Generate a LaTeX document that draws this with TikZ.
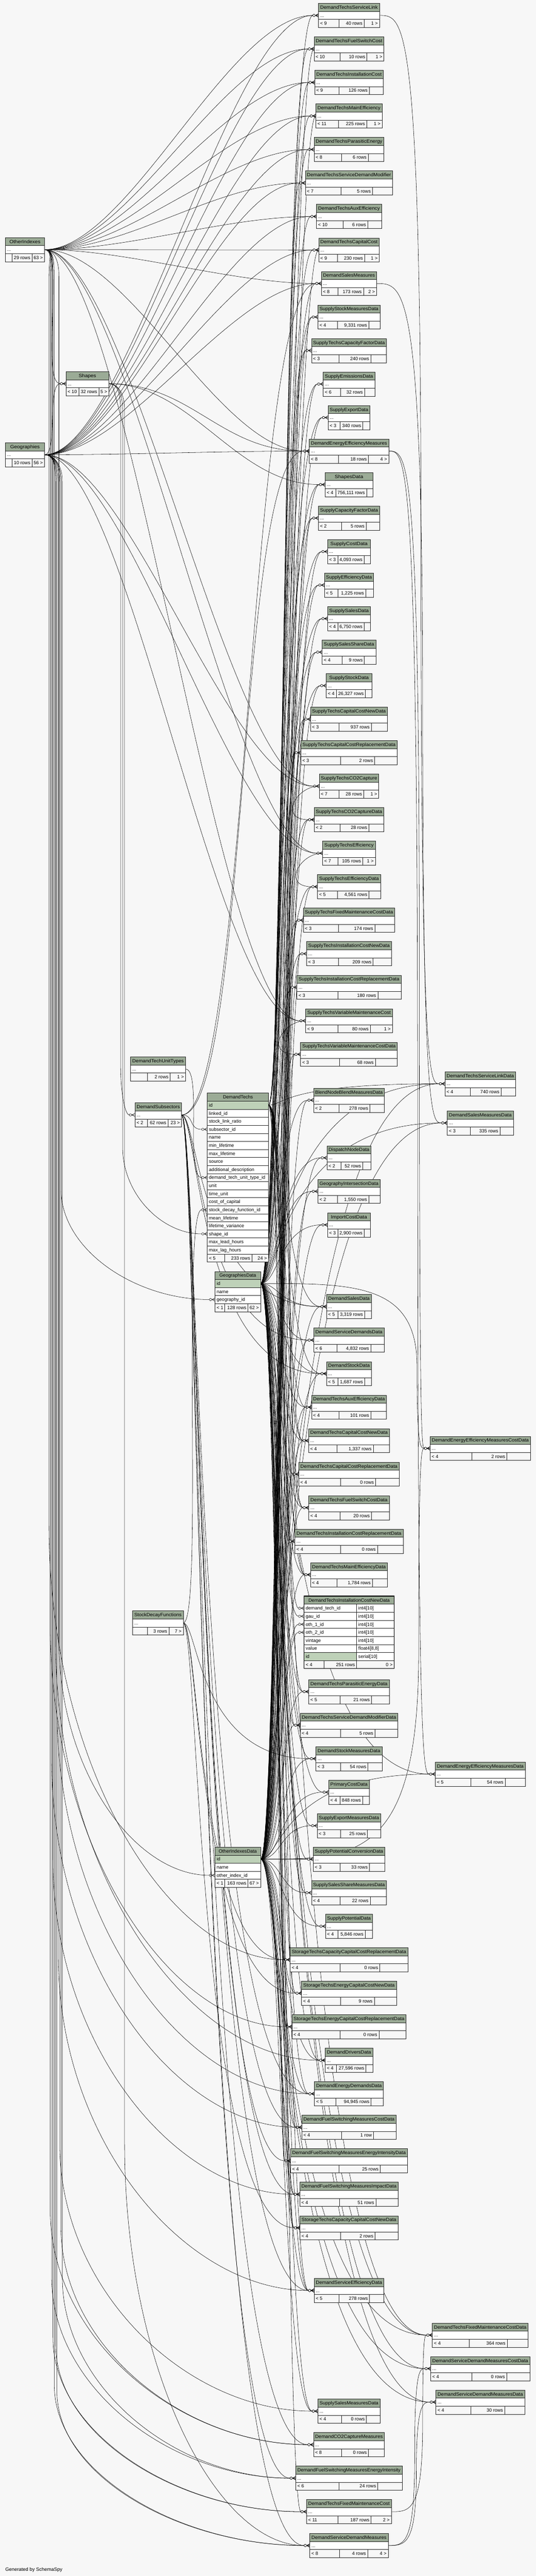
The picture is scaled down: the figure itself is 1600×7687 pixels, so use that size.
\documentclass[tikz,border=0pt]{standalone}
\usepackage{fontspec}
\usepackage{graphicx}
\setmainfont{Liberation Sans}
\usetikzlibrary{calc}
\pgfdeclarelayer{bgl}
\pgfdeclarelayer{edges}
\pgfsetlayers{bgl,edges,main}
\definecolor{bgc}{HTML}{F7F7F7}
\definecolor{hdr}{HTML}{9BAB96}
\definecolor{pkc}{HTML}{BED1B8}
\newlength\wL\newlength\wM\newlength\wR\newlength\wH
\newcommand\tf{\fontsize{14}{16}\selectfont}
\newcommand\meas[2]{\pgfinterruptpicture\setbox0=\hbox{\tf #2}\global#1=\wd0\relax\endpgfinterruptpicture}
\tikzset{
 tbox/.style={rectangle,inner sep=0pt,outer sep=0pt,minimum height=72pt,draw=none},
 txt/.style={inner sep=0pt,outer sep=0pt,font=\tf,text=black},
 tline/.style={draw=black!85,line width=0.9pt},
 fk/.style={draw=black,line width=0.85pt},
}
% compact table: id, title, cx, ytop, W, left, mid, right
\newcommand\tb[8]{%
 \pgfmathsetmacro\tbxl{#3-#5/2}%
 \pgfmathsetmacro\tbxr{#3+#5/2}%
 \meas\wL{#6}\meas\wM{#7}\meas\wR{#8}\meas\wH{#2}%
 \pgfmathsetmacro\tblz{max(\wL+8pt,17pt)}%
 \pgfmathsetmacro\tbmz{\wM+8pt}%
 \pgfmathsetmacro\tbrz{max(\wR+8pt,17pt)}%
 \pgfmathsetmacro\tbex{#5-\tblz-\tbmz-\tbrz}%
 \pgfmathsetmacro\tbda{\tbxl+\tblz+0.47*\tbex}%
 \pgfmathsetmacro\tbdb{\tbxr-\tbrz-0.26*\tbex}%
 \pgfmathsetmacro\tbsx{min(1.1,(#5-10)/\wH)}%
 \node[tbox,minimum width=#5pt,anchor=north west] (#1) at (\tbxl,#4) {};%
 \fill[bgc] (\tbxl,#4) rectangle (\tbxr,#4+72);%
 \fill[hdr] (\tbxl,#4) rectangle (\tbxr,#4+24);%
 \fill[white] (\tbxl,#4+24) rectangle (\tbxr,#4+48);%
 \draw[tline] (\tbxl,#4+24) -- (\tbxr,#4+24) (\tbxl,#4+48) -- (\tbxr,#4+48) (\tbda,#4+48) -- (\tbda,#4+72) (\tbdb,#4+48) -- (\tbdb,#4+72);%
 \draw[tline] (\tbxl,#4) rectangle (\tbxr,#4+72);%
 \node[txt,anchor=base] (#1-h) at (#3,#4+17) {\scalebox{\tbsx}[1]{#2}};%
 \node[txt,anchor=base west] (#1-d) at (\tbxl+5,#4+41) {...};%
 \node[txt,anchor=base west] (#1-l) at (\tbxl+5,#4+65) {#6};%
 \node[txt,anchor=base east] (#1-m) at (\tbdb-5,#4+65) {#7};%
 \node[txt,anchor=base east] (#1-r) at (\tbxr-5,#4+65) {#8};%
}
\newcommand\fkcrow[1]{\draw[fk] ($(#1)+(-9,0)$) -- ($(#1)+(0,-5)$) ($(#1)+(-9,0)$) -- (#1) ($(#1)+(-9,0)$) -- ($(#1)+(0,5)$);\draw[fk,fill=white] ($(#1)+(-13.5,0)$) circle[radius=3.5];}
\newcommand\eD[3]{\draw[fk] (#1) .. controls +(#3,0) and +(-#3,0) .. ($(#2)+(-17,0)$);\fkcrow{#2}}
\newcommand\eM[3]{\draw[fk] (#1) .. controls ($(#1)+(#3,0)$) and ($(#1|-#2)+(#3,0)$) .. ($(#2)+(-17,0)$);\fkcrow{#2}}
\newcommand\eC[4]{\draw[fk] let \p1=(#1), \p2=($(#2)+(-17,0)$) in (\p1) .. controls (\x1+25pt,\y1) and (#3pt,\y1-25pt) .. (#3pt,\y1-80pt) -- (#3pt,\y2+#4pt) .. controls (#3pt,\y2+0.45*#4pt) and ({\x2-0.5*(\x2-#3pt)},\y2) .. (\p2);\fkcrow{#2}}
\newcommand\eF[3]{\draw[fk] let \p1=(#1), \p2=($(#2)+(-17,0)$) in (\p1) .. controls ({\x1+0.6*(#3pt-\x1)},\y1) and (#3pt,\y1) .. (#3pt,{0.5*(\y1+\y2)}) .. controls (#3pt,\y2) and ({#3pt+0.5*(\x2-#3pt)},\y2) .. (\p2);\fkcrow{#2}}
\newcommand\eL[2]{\draw[fk] (#1) .. controls +(-70,0) and +(-90,0) .. ($(#2)+(-17,0)$);\fkcrow{#2}}

\begin{document}
\begin{tikzpicture}[x=1pt,y=-1pt]
\begin{pgfonlayer}{bgl}
\fill[bgc] (0,0) rectangle (1600,7687);
\end{pgfonlayer}
\useasboundingbox (0,0) rectangle (1600,7687);

% ---------- left tables
\tb{oi}{OtherIndexes}{74.5}{709}{117}{}{29 rows}{63 >}
\tb{geo}{Geographies}{74.5}{1321}{117}{}{10 rows}{56 >}
\tb{sh}{Shapes}{261}{1109}{128}{< 10}{32 rows}{5 >}
\tb{dtut}{DemandTechUnitTypes}{472}{3154}{164}{}{2 rows}{1 >}
\tb{dss}{DemandSubsectors}{472.5}{3291}{139}{< 2}{62 rows}{23 >}
\tb{sdf}{StockDecayFunctions}{471.5}{4807}{151}{}{3 rows}{7 >}

% DemandTechs
\node[tbox,minimum width=183pt,minimum height=504pt,anchor=north west] (dt) at (619,3262) {};
\fill[bgc] (619,3262) rectangle (802,3766);
\fill[hdr] (619,3262) rectangle (802,3286);
\fill[pkc] (619,3286) rectangle (802,3310);
\fill[white] (619,3310) rectangle (802,3742);
\foreach \k in {1,...,20}{\draw[tline] (619,3262+24*\k) -- (802,3262+24*\k);}
\draw[tline] (671,3742) -- (671,3766) (752,3742) -- (752,3766);
\draw[tline] (619,3262) rectangle (802,3766);
\node[txt,anchor=base] (dt-h) at (710.5,3279) {DemandTechs};
\foreach \r [count=\i] in {id,linked\_id,stock\_link\_ratio,subsector\_id,name,min\_lifetime,max\_lifetime,source,additional\_description,demand\_tech\_unit\_type\_id,unit,time\_unit,cost\_of\_capital,stock\_decay\_function\_id,mean\_lifetime,lifetime\_variance,shape\_id,max\_lead\_hours,max\_lag\_hours}{\node[txt,anchor=base west] (dt-\i) at (624,3262+24*\i+17) {\r};}
\node[txt,anchor=base west] (dt-fl) at (624,3759) {< 5};
\node[txt,anchor=base east] (dt-fm) at (747,3759) {233 rows};
\node[txt,anchor=base east] (dt-fr) at (797,3759) {24 >};
\coordinate (DTid) at ($(dt.north east)+(0,36)$);
\coordinate (DTsub) at ($(dt.north west)+(0,108)$);
\coordinate (DTunit) at ($(dt.north west)+(0,252)$);
\coordinate (DTsdf) at ($(dt.north west)+(0,348)$);
\coordinate (DTshape) at ($(dt.north west)+(0,420)$);

% GeographiesData
\node[tbox,minimum width=136pt,minimum height=120pt,anchor=north west] (gd) at (642,3794) {};
\fill[bgc] (642,3794) rectangle (778,3914);
\fill[hdr] (642,3794) rectangle (778,3818);
\fill[pkc] (642,3818) rectangle (778,3842);
\fill[white] (642,3842) rectangle (778,3890);
\foreach \k in {1,2,3,4}{\draw[tline] (642,3794+24*\k) -- (778,3794+24*\k);}
\draw[tline] (670.5,3890) -- (670.5,3914) (740.5,3890) -- (740.5,3914);
\draw[tline] (642,3794) rectangle (778,3914);
\node[txt,anchor=base] (gd-h) at (710,3811) {GeographiesData};
\node[txt,anchor=base west] (gd-1) at (647,3835) {id};
\node[txt,anchor=base west] (gd-2) at (647,3859) {name};
\node[txt,anchor=base west] (gd-3) at (647,3883) {geography\_id};
\node[txt,anchor=base west] (gd-fl) at (647,3907) {< 1};
\node[txt,anchor=base east] (gd-fm) at (735.5,3907) {128 rows};
\node[txt,anchor=base east] (gd-fr) at (773,3907) {62 >};
\coordinate (GDid) at ($(gd.north east)+(0,36)$);
\coordinate (GDgeo) at ($(gd.north west)+(0,84)$);

% OtherIndexesData
\node[tbox,minimum width=136pt,minimum height=120pt,anchor=north west] (oid) at (642,5512) {};
\fill[bgc] (642,5512) rectangle (778,5632);
\fill[hdr] (642,5512) rectangle (778,5536);
\fill[pkc] (642,5536) rectangle (778,5560);
\fill[white] (642,5560) rectangle (778,5608);
\foreach \k in {1,2,3,4}{\draw[tline] (642,5512+24*\k) -- (778,5512+24*\k);}
\draw[tline] (670.5,5608) -- (670.5,5632) (740.5,5608) -- (740.5,5632);
\draw[tline] (642,5512) rectangle (778,5632);
\node[txt,anchor=base] (oid-h) at (710,5529) {OtherIndexesData};
\node[txt,anchor=base west] (oid-1) at (647,5553) {id};
\node[txt,anchor=base west] (oid-2) at (647,5577) {name};
\node[txt,anchor=base west] (oid-3) at (647,5601) {other\_index\_id};
\node[txt,anchor=base west] (oid-fl) at (647,5625) {< 1};
\node[txt,anchor=base east] (oid-fm) at (735.5,5625) {163 rows};
\node[txt,anchor=base east] (oid-fr) at (773,5625) {67 >};
\coordinate (OIDid) at ($(oid.north east)+(0,36)$);
\coordinate (OIDoi) at ($(oid.north west)+(0,84)$);

% ---------- right column
\tb{r1}{DemandTechsServiceLink}{1042}{10}{182}{< 9}{40 rows}{1 >}
\tb{r2}{DemandTechsFuelSwitchCost}{1042}{110}{209}{< 10}{10 rows}{1 >}
\tb{r3}{DemandTechsInstallationCost}{1042}{210}{205}{< 9}{126 rows}{}
\tb{r4}{DemandTechsMainEfficiency}{1042}{310}{198}{< 11}{225 rows}{1 >}
\tb{r5}{DemandTechsParasiticEnergy}{1042}{410}{209}{< 8}{6 rows}{}
\tb{r6}{DemandTechsServiceDemandModifier}{1042}{510}{261}{< 7}{5 rows}{}
\tb{r7}{DemandTechsAuxEfficiency}{1042}{610}{194}{< 10}{6 rows}{}
\tb{r8}{DemandTechsCapitalCost}{1042}{710}{181}{< 9}{230 rows}{1 >}
\tb{r9}{DemandSalesMeasures}{1042}{810}{165}{< 8}{173 rows}{2 >}
\tb{r10}{SupplyStockMeasuresData}{1042}{910}{186}{< 4}{9,331 rows}{}
\tb{r11}{SupplyTechsCapacityFactorData}{1042}{1010}{224}{< 3}{240 rows}{}
\tb{r12}{SupplyEmissionsData}{1042}{1110}{154}{< 6}{32 rows}{}
\tb{r13}{SupplyExportData}{1042}{1210}{125}{< 3}{340 rows}{}
\tb{r14}{DemandEnergyEfficiencyMeasures}{1042}{1310}{237}{< 8}{18 rows}{4 >}
\tb{r15}{ShapesData}{1042}{1410}{143}{< 4}{756,111 rows}{}
\tb{r16}{SupplyCapacityFactorData}{1042}{1510}{183}{< 2}{5 rows}{}
\tb{r17}{SupplyCostData}{1042}{1610}{128}{< 3}{4,093 rows}{}
\tb{r18}{SupplyEfficiencyData}{1042}{1710}{147}{< 5}{1,225 rows}{}
\tb{r19}{SupplySalesData}{1042}{1810}{128}{< 4}{6,750 rows}{}
\tb{r20}{SupplySalesShareData}{1042}{1910}{160}{< 4}{9 rows}{}
\tb{r21}{SupplyStockData}{1042}{2010}{136}{< 4}{26,327 rows}{}
\tb{r22}{SupplyTechsCapitalCostNewData}{1042}{2110}{230}{< 3}{937 rows}{}
\tb{r23}{SupplyTechsCapitalCostReplacementData}{1042}{2210}{288}{< 3}{2 rows}{}
\tb{r24}{SupplyTechsCO2Capture}{1042}{2310}{178}{< 7}{28 rows}{1 >}
\tb{r25}{SupplyTechsCO2CaptureData}{1042}{2410}{208}{< 2}{28 rows}{}
\tb{r26}{SupplyTechsEfficiency}{1042}{2510}{157}{< 7}{105 rows}{1 >}
\tb{r27}{SupplyTechsEfficiencyData}{1042}{2610}{188}{< 5}{4,561 rows}{}
\tb{r28}{SupplyTechsFixedMaintenanceCostData}{1042}{2710}{273}{< 3}{174 rows}{}
\tb{r29}{SupplyTechsInstallationCostNewData}{1042}{2810}{253}{< 3}{209 rows}{}
\tb{r30}{SupplyTechsInstallationCostReplacementData}{1042}{2910}{311}{< 3}{180 rows}{}
\tb{r31}{SupplyTechsVariableMaintenanceCost}{1042}{3010}{259}{< 9}{80 rows}{1 >}
\tb{r32}{SupplyTechsVariableMaintenanceCostData}{1042}{3110}{289}{< 3}{68 rows}{}
\tb{r33}{BlendNodeBlendMeasuresData}{1042}{3247}{212}{< 2}{278 rows}{}
\tb{r34}{DispatchNodeData}{1042}{3419}{132}{< 2}{52 rows}{}
\tb{r35}{GeographyIntersectionData}{1042}{3519}{186}{< 2}{1,550 rows}{}
\tb{r36}{ImportCostData}{1042}{3619}{128}{< 3}{2,900 rows}{}
\tb{r37}{DemandSalesData}{1042}{3863}{134}{< 5}{3,319 rows}{}
\tb{r38}{DemandServiceDemandsData}{1042}{3963}{210}{< 6}{4,832 rows}{}
\tb{r39}{DemandStockData}{1042}{4063}{134}{< 5}{1,687 rows}{}
\tb{r40}{DemandTechsAuxEfficiencyData}{1042}{4163}{224}{< 4}{101 rows}{}
\tb{r41}{DemandTechsCapitalCostNewData}{1042}{4263}{241}{< 4}{1,337 rows}{}
\tb{r42}{DemandTechsCapitalCostReplacementData}{1042}{4363}{300}{< 4}{0 rows}{}
\tb{r43}{DemandTechsFuelSwitchCostData}{1042}{4463}{240}{< 4}{20 rows}{}
\tb{r44}{DemandTechsInstallationCostReplacementData}{1042}{4563}{323}{< 4}{0 rows}{}
\tb{r45}{DemandTechsMainEfficiencyData}{1042}{4663}{230}{< 4}{1,784 rows}{}
\tb{r47}{DemandTechsParasiticEnergyData}{1042}{5012}{240}{< 5}{21 rows}{}
\tb{r48}{DemandTechsServiceDemandModifierData}{1042}{5112}{292}{< 4}{5 rows}{}
\tb{r49}{DemandStockMeasuresData}{1042}{5212}{197}{< 3}{54 rows}{}
\tb{r50}{PrimaryCostData}{1042}{5312}{121}{< 4}{848 rows}{}
\tb{r51}{SupplyExportMeasuresData}{1042}{5412}{190}{< 3}{25 rows}{}
\tb{r52}{SupplyPotentialConversionData}{1042}{5512}{214}{< 3}{33 rows}{}
\tb{r53}{SupplySalesShareMeasuresData}{1042}{5612}{224}{< 4}{22 rows}{}
\tb{r54}{SupplyPotentialData}{1042}{5712}{140}{< 4}{5,846 rows}{}
\tb{r55}{StorageTechsCapacityCapitalCostReplacementData}{1042}{5812}{352}{< 4}{0 rows}{}
\tb{r56}{StorageTechsEnergyCapitalCostNewData}{1042}{5912}{283}{< 4}{9 rows}{}
\tb{r57}{StorageTechsEnergyCapitalCostReplacementData}{1042}{6012}{341}{< 4}{0 rows}{}
\tb{r58}{DemandDriversData}{1042}{6112}{142}{< 4}{27,596 rows}{}
\tb{r59}{DemandEnergyDemandsData}{1042}{6212}{206}{< 5}{94,945 rows}{}
\tb{r60}{DemandFuelSwitchingMeasuresCostData}{1042}{6312}{282}{< 4}{1 row}{}
\tb{r61}{DemandFuelSwitchingMeasuresEnergyIntensityData}{1042}{6412}{349}{< 4}{25 rows}{}
\tb{r62}{DemandFuelSwitchingMeasuresImpactData}{1042}{6512}{294}{< 4}{51 rows}{}
\tb{r63}{StorageTechsCapacityCapitalCostNewData}{1042}{6612}{293}{< 4}{2 rows}{}
\tb{r64}{DemandServiceEfficiencyData}{1042}{6799}{208}{< 5}{278 rows}{}
\tb{r65}{SupplySalesMeasuresData}{1042}{7159}{186}{< 4}{0 rows}{}
\tb{r66}{DemandCO2CaptureMeasures}{1042}{7259}{212}{< 8}{0 rows}{}
\tb{r67}{DemandFuelSwitchingMeasuresEnergyIntensity}{1042}{7359}{318}{< 6}{24 rows}{}
\tb{r68}{DemandTechsFixedMaintenanceCost}{1042}{7459}{253}{< 11}{187 rows}{2 >}
\tb{r69}{DemandServiceDemandMeasures}{1042}{7560}{234}{< 8}{4 rows}{4 >}

% focus table
\node[tbox,minimum width=269pt,minimum height=216pt,anchor=north west] (foc) at (908,4763) {};
\fill[bgc] (908,4763) rectangle (1177,4979);
\fill[hdr] (908,4763) rectangle (1177,4787);
\fill[white] (908,4787) rectangle (1177,4955);
\fill[pkc] (908,4931) rectangle (1065,4955);
\foreach \k in {1,...,8}{\draw[tline] (908,4763+24*\k) -- (1177,4763+24*\k);}
\draw[tline] (1065,4787) -- (1065,4979) (968,4955) -- (968,4979);
\draw[black,line width=2.5pt] (908,4763) rectangle (1177,4979);
\node[txt,anchor=base] (foc-h) at (1042.5,4780) {DemandTechsInstallationCostNewData};
\foreach \r/\s [count=\i] in {demand\_tech\_id/int4[10],gau\_id/int4[10],oth\_1\_id/int4[10],oth\_2\_id/int4[10],vintage/int4[10],value/{float4[8,8]},id/serial[10]}{%
 \node[txt,anchor=base west] (foc-n\i) at (913,4763+24*\i+17) {\r};
 \node[txt,anchor=base west] (foc-t\i) at (1070,4763+24*\i+17) {\s};}
\node[txt,anchor=base west] (foc-fl) at (913,4972) {< 4};
\node[txt,anchor=base east] (foc-fm) at (1060,4972) {251 rows};
\node[txt,anchor=base east] (foc-fr) at (1172,4972) {0 >};
\coordinate (FCdt) at ($(foc.north west)+(0,36)$);
\coordinate (FCgau) at ($(foc.north west)+(0,60)$);
\coordinate (FCo1) at ($(foc.north west)+(0,84)$);
\coordinate (FCo2) at ($(foc.north west)+(0,108)$);

% ---------- far right
\tb{f1}{DemandTechsServiceLinkData}{1434}{3198}{211}{< 4}{740 rows}{}
\tb{f2}{DemandSalesMeasuresData}{1434}{3315}{197}{< 3}{335 rows}{}
\tb{f3}{DemandEnergyEfficiencyMeasuresCostData}{1434}{4286}{300}{< 4}{2 rows}{}
\tb{f4}{DemandEnergyEfficiencyMeasuresData}{1434}{5258}{269}{< 5}{54 rows}{}
\tb{f5}{DemandTechsFixedMaintenanceCostData}{1434}{6932}{286}{< 4}{364 rows}{}
\tb{f6}{DemandServiceDemandMeasuresCostData}{1434}{7032}{296}{< 4}{0 rows}{}
\tb{f7}{DemandServiceDemandMeasuresData}{1434}{7132}{265}{< 4}{30 rows}{}

\node[txt,anchor=base west,font=\fontsize{14.5}{16}\selectfont] (gen) at (16,7672) {Generated by SchemaSpy};

% ---------- connectors
\begin{pgfonlayer}{edges}
\foreach \t in {r1,r2,r3,r4,r5,r6,r7,r8,r9,r14,r24,r26,r31}{\eD{oi.east}{\t.west}{250}\eD{geo.east}{\t.west}{250}}
\eC{oi.east}{r55.west}{146}{1300}
\eC{oi.east}{r57.west}{150}{1200}
\eC{oi.east}{r60.west}{154}{1100}
\eC{oi.east}{r62.west}{158}{1000}
\eC{oi.east}{r66.west}{150}{700}
\eC{oi.east}{r67.west}{154}{600}
\eC{oi.east}{r68.west}{158}{520}
\eC{oi.east}{r69.west}{162}{480}
\eC{oi.east}{OIDoi}{176}{700}
\eC{geo.east}{r58.west}{166}{1250}
\eC{geo.east}{r59.west}{170}{1150}
\eC{geo.east}{r64.west}{174}{1000}
\eC{geo.east}{r65.west}{178}{800}
\eC{geo.east}{r66.west}{182}{650}
\eC{geo.east}{r67.west}{186}{600}
\eC{geo.east}{r68.west}{166}{500}
\eC{geo.east}{r69.west}{170}{460}
\eC{geo.east}{GDgeo}{182}{330}
\eD{oi.east}{sh.west}{60}
\eD{geo.east}{sh.west}{40}
\eD{sh.east}{r15.west}{250}
\eD{sh.east}{r14.west}{250}
\eC{sh.east}{dss.west}{360}{150}
\eC{sh.east}{DTshape}{366}{260}
\eC{sh.east}{r69.west}{372}{1200}
\eD{dtut.east}{DTunit}{50}
\eD{dss.east}{DTsub}{40}
\eD{sdf.east}{DTsdf}{60}
\eD{dss.east}{r9.west}{200}
\eD{dss.east}{r14.west}{200}
\foreach \t in {r37,r38,r39,r59,r64,r66,r67,r69,r60,r61,r62}{\eM{dss.east}{\t.west}{50}}
\foreach \t in {r49,r55,r56,r63}{\eM{sdf.east}{\t.west}{45}}
\foreach \t in {r1,r2,r3,r4,r5,r6,r7,r8,r9,r68,r37,r39,r64,r40,r41,r42,r43,r44,r45,r47,r48,f1,f5}{\eM{DTid}{\t.west}{45}}
\eM{DTid}{FCdt}{45}
\foreach \t in {r10,r11,r12,r13,r15,r16,r17,r18,r19,r20,r21,r22,r23,r25,r27,r28,r29,r30,r32,r33,r34,r35,r36,r37,r38,r39,r40,r41,r42,r43,r44,r45,r47,r48,r49,r50,r51,r52,r53,r54,r55,r56,r57,r58,r59,r60,r61,r62,r63,r64,r65,f1,f2,f4,f5,f6,f7}{\eM{GDid}{\t.west}{55}\eM{OIDid}{\t.west}{62}}
\eM{GDid}{FCgau}{55}
\eM{OIDid}{FCo1}{62}
\eM{OIDid}{FCo2}{62}
\eF{GDid}{f3.west}{1245}
\eF{OIDid}{f3.west}{1250}
\eF{r1.east}{f1.west}{1257}
\eF{r9.east}{f2.west}{1262}
\eF{r14.east}{f3.west}{1252}
\eF{r14.east}{f4.west}{1247}
\eF{r68.east}{f5.west}{1262}
\eF{r69.east}{f6.west}{1238}
\eF{r69.east}{f7.west}{1243}
\eL{r2.west}{r43.west}
\eL{r4.west}{r45.west}
\eL{r8.west}{r41.west}
\eL{r24.west}{r25.west}
\eL{r26.west}{r27.west}
\eL{r31.west}{r32.west}
\end{pgfonlayer}
\end{tikzpicture}
\end{document}
